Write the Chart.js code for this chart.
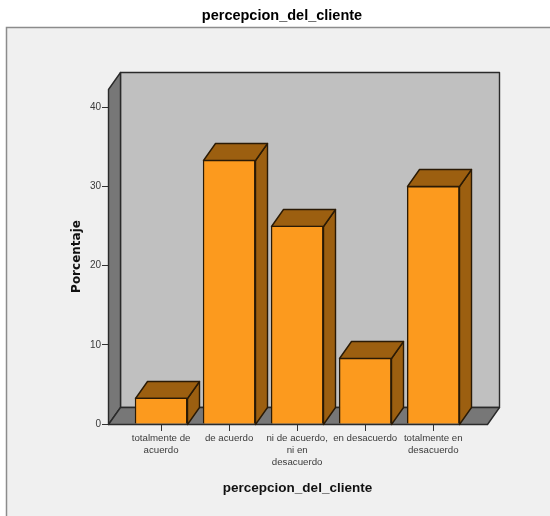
<!DOCTYPE html>
<html>
<head>
<meta charset="utf-8">
<script src="https://cdn.jsdelivr.net/npm/chart.js@4"></script>
<style>
  body { margin: 0; background: #fff; }
  canvas { display: block; }
</style>
</head>
<body>
<canvas id="chart" width="550" height="516"></canvas>
<script>
const categories = [
    ['totalmente de', 'acuerdo'],
    'de acuerdo',
    ['ni de acuerdo,', 'ni en', 'desacuerdo'],
    'en desacuerdo',
    ['totalmente en', 'desacuerdo']
];
const percentages = [3.3, 33.3, 25.0, 8.3, 30.0];
const yTicks = [0, 10, 20, 30, 40];
const chartTitle = 'percepcion_del_cliente';

const depthX = 12;
const depthY = 17;
const sans = '"Liberation Sans", Arial, sans-serif';

function poly(ctx, pts, fill, stroke) {
    ctx.beginPath();
    pts.forEach((p, i) => i ? ctx.lineTo(p[0], p[1]) : ctx.moveTo(p[0], p[1]));
    ctx.closePath();
    ctx.fillStyle = fill;
    ctx.fill();
    ctx.lineWidth = 1.4;
    ctx.strokeStyle = stroke;
    ctx.stroke();
}

// grey panel behind the plot, title sits above it
const panel = {
    id: 'panel',
    beforeDraw(chart) {
        const ctx = chart.ctx;
        ctx.save();
        ctx.fillStyle = '#f0f0f0';
        ctx.fillRect(6, 27, 544, 489);
        ctx.strokeStyle = '#8c8c8c';
        ctx.lineWidth = 1.5;
        ctx.beginPath();
        ctx.moveTo(6.5, 516);
        ctx.lineTo(6.5, 27.5);
        ctx.lineTo(550, 27.5);
        ctx.stroke();
        ctx.fillStyle = '#000';
        ctx.font = 'bold 14.5px ' + sans;
        ctx.textAlign = 'center';
        ctx.textBaseline = 'middle';
        ctx.fillText(chartTitle, 282, 16);
        ctx.restore();
    }
};

// box walls and floor
const walls = {
    id: 'walls',
    beforeDatasetsDraw(chart) {
        const { left, right, top, bottom } = chart.chartArea;
        const ctx = chart.ctx;
        const l = left + 0.5, r = right + 0.5, t = top + 0.5, b = bottom + 0.5;
        ctx.save();
        ctx.lineJoin = 'round';
        poly(ctx, [[l + depthX, t - depthY], [r + depthX, t - depthY], [r + depthX, b - depthY], [l + depthX, b - depthY]], '#c0c0c0', '#2a2a2a');
        poly(ctx, [[l, b], [l + depthX, b - depthY], [l + depthX, t - depthY], [l, t]], '#777777', '#2a2a2a');
        poly(ctx, [[l, b], [r, b], [r + depthX, b - depthY], [l + depthX, b - depthY]], '#777777', '#2a2a2a');
        ctx.restore();
    }
};

// side and top faces of each bar, the front face is the bar element itself
const barDepth = {
    id: 'barDepth',
    beforeDatasetDraw(chart) {
        const ctx = chart.ctx;
        const dark = '#9c5f10';
        ctx.save();
        ctx.lineJoin = 'round';
        chart.getDatasetMeta(0).data.forEach(bar => {
            const { x, y, base, width } = bar.getProps(['x', 'y', 'base', 'width'], true);
            const a = Math.round(x - width / 2) + 0.5;
            const c = Math.round(x + width / 2) + 0.5;
            const ty = Math.round(y) + 0.5;
            const by = Math.round(base) + 0.5;
            poly(ctx, [[c, by], [c + depthX, by - depthY], [c + depthX, ty - depthY], [c, ty]], dark, '#2a1a05');
            poly(ctx, [[a, ty], [c, ty], [c + depthX, ty - depthY], [a + depthX, ty - depthY]], dark, '#2a1a05');
        });
        ctx.restore();
    }
};

new Chart(document.getElementById('chart').getContext('2d'), {
    type: 'bar',
    data: {
        datasets: [{
            label: 'Porcentaje',
            data: percentages.map((v, i) => ({ x: i, y: v })),
            backgroundColor: '#fc9a1e',
            borderColor: '#2a1a05',
            borderWidth: 1.4,
            barThickness: 52
        }]
    },
    plugins: [panel, walls, barDepth],
    options: {
        responsive: false,
        animation: false,
        layout: { padding: { top: 89, right: 63, bottom: 20, left: 62 } },
        scales: {
            x: {
                type: 'linear',
                offset: false,
                bounds: 'data',
                min: -0.78,
                max: 4.79,
                afterBuildTicks: scale => { scale.ticks = categories.map((c, i) => ({ value: i })); },
                afterFit: scale => { scale.height = 72; },
                grid: { offset: false, drawOnChartArea: false, color: '#333', tickLength: 7 },
                border: { display: false },
                ticks: {
                    autoSkip: false,
                    maxRotation: 0,
                    padding: 2,
                    color: '#3a3a3a',
                    font: { family: sans, size: 9.7, lineHeight: 1.2 },
                    callback: value => categories[value]
                },
                title: {
                    display: true,
                    text: chartTitle,
                    color: '#111',
                    font: { family: sans, size: 13.5, weight: 'bold' },
                    padding: { top: 5, bottom: 0 }
                }
            },
            y: {
                min: 0,
                max: 42.3,
                afterBuildTicks: scale => { scale.ticks = yTicks.map(v => ({ value: v })); },
                afterFit: scale => { scale.width = 46; },
                grid: { drawOnChartArea: false, color: '#333', tickLength: 6 },
                border: { display: false },
                ticks: {
                    padding: 1,
                    color: '#3a3a3a',
                    font: { family: sans, size: 10 }
                },
                title: {
                    display: true,
                    text: 'Porcentaje',
                    color: '#111',
                    font: { family: '"DejaVu Sans"', size: 12, weight: 'bold' },
                    padding: { top: 8, bottom: 0 }
                }
            }
        },
        plugins: {
            legend: { display: false },
            tooltip: { enabled: false },
            title: { display: false }
        }
    }
});
</script>
</body>
</html>
